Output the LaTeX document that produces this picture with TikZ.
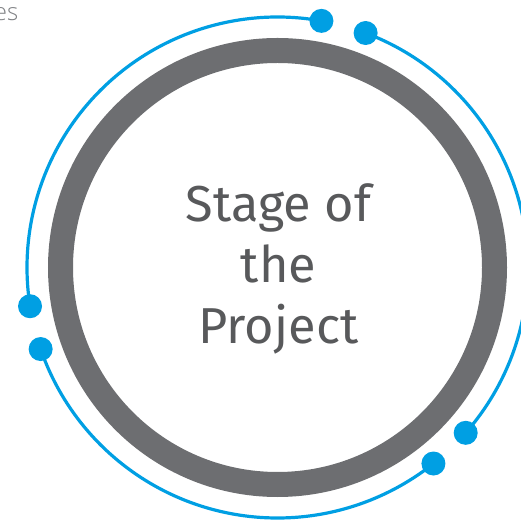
\documentclass[tikz,border=0pt]{standalone}
\usepackage{fontspec}
\usetikzlibrary{calc}
\setmainfont{Fira Sans}
\newfontfamily\smallfont{Open Sans Light}
\definecolor{ringgray}{HTML}{6D6E71}
\definecolor{arcblue}{HTML}{009FE3}
\definecolor{textgray}{HTML}{58595B}
\definecolor{lightgray}{HTML}{808285}
\begin{document}
\begin{tikzpicture}[x=1pt,y=1pt]
\tikzset{
  bluearc/.style={draw=arcblue, line width=3.2pt},
  bluedot/.style={circle, fill=arcblue, inner sep=0pt, minimum size=24pt},
}
\useasboundingbox (0,0) rectangle (520,521);
\coordinate (c) at (277.5,253.5);
% gray ring
\draw[ringgray, line width=25pt] (c) circle[radius=217];
% blue arcs
\draw[bluearc] ($(c)+(79.9:250.5)$) arc[start angle=79.9, end angle=188.9, radius=250.5];
\draw[bluearc] ($(c)+(69.4:250.5)$) arc[start angle=69.4, end angle=-41.3, radius=250.5];
\draw[bluearc] ($(c)+(199:250.5)$) arc[start angle=199, end angle=308.5, radius=250.5];
% dots
\node[bluedot] (d1) at ($(c)+(79.9:250.5)$) {};
\node[bluedot] (d2) at ($(c)+(69.4:250.5)$) {};
\node[bluedot] (d3) at ($(c)+(188.9:250.5)$) {};
\node[bluedot] (d4) at ($(c)+(199:250.5)$) {};
\node[bluedot] (d5) at ($(c)+(-41.3:250.5)$) {};
\node[bluedot] (d6) at ($(c)+(-51.5:250.5)$) {};
% text
\node[text=textgray, font=\fontsize{50.5}{61}\selectfont, align=center] (title) at (278.5,252) {Stage of\\the\\Project};
\node[text=lightgray, font=\smallfont\fontsize{24}{28}\selectfont, anchor=base east, inner sep=0pt] (frag) at (18.5,500) {es};
\end{tikzpicture}
\end{document}
